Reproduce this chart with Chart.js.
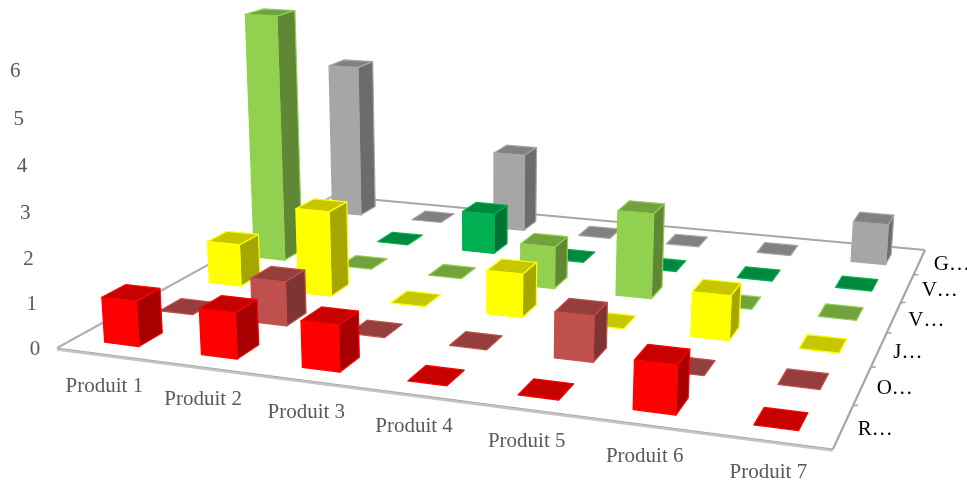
<!DOCTYPE html>
<html>
<head>
<meta charset="utf-8">
<title>Produits</title>
<script src="https://cdn.jsdelivr.net/npm/chart.js@4/dist/chart.umd.js"></script>
<style>
  html, body { margin: 0; padding: 0; background: #fff; }
  canvas { display: block; }
</style>
</head>
<body>
<canvas id="chart" width="967" height="482"></canvas>
<script>
const produits = ['Produit 1', 'Produit 2', 'Produit 3', 'Produit 4', 'Produit 5', 'Produit 6', 'Produit 7'];
const seriesNames = ['R…', 'O…', 'J…', 'V…', 'V…', 'G…'];

const rouge = [1, 1, 1, 0, 0, 1, 0];
const orange = [0, 1, 0, 0, 1, 0, 0];
const jaune = [1, 2, 0, 1, 0, 1, 0];
const vertClair = [6, 0, 0, 1, 2, 0, 0];
const vertFonce = [0, 0, 1, 0, 0, 0, 0];
const gris = [4, 0, 2, 0, 0, 0, 1];

const seriesColors = [
    [255, 0, 0], [192, 80, 77], [255, 255, 0], [146, 208, 80], [0, 176, 80], [166, 166, 166]
];
const seriesValues = [rouge, orange, jaune, vertClair, vertFonce, gris];

// floor corners and vertical vanishing point of the 3D view
const floor = { fl: [57, 348], fr: [833, 449], br: [925, 250], bl: [333, 196] };
const vanish = [480, 6300];
const unitPx = 45;
const barWidth = 0.36;
const barDepth = 0.42;

const makeProjection = ({ fl, fr, br, bl }) => {
    const dx1 = fr[0] - br[0], dx2 = bl[0] - br[0], sx = fl[0] - fr[0] + br[0] - bl[0];
    const dy1 = fr[1] - br[1], dy2 = bl[1] - br[1], sy = fl[1] - fr[1] + br[1] - bl[1];
    const den = dx1 * dy2 - dx2 * dy1;
    const g = (sx * dy2 - dx2 * sy) / den;
    const h = (dx1 * sy - sx * dy1) / den;
    const a = fr[0] - fl[0] + g * fr[0], b = bl[0] - fl[0] + h * bl[0];
    const d = fr[1] - fl[1] + g * fr[1], e = bl[1] - fl[1] + h * bl[1];
    const k = unitPx / (vanish[1] - fl[1]);

    return (u, v, z) => {
        const w = g * u + h * v + 1 - k * z;
        return [
            (a * u + b * v + fl[0] - k * z * vanish[0]) / w,
            (d * u + e * v + fl[1] - k * z * vanish[1]) / w
        ];
    };
};

const project = makeProjection(floor);

const shade = (rgb, f) => `rgb(${rgb.map(c => Math.round(c * f)).join(',')})`;

const polygon = (ctx, points, fill, stroke) => {
    ctx.beginPath();
    points.forEach((p, i) => (i ? ctx.lineTo(p[0], p[1]) : ctx.moveTo(p[0], p[1])));
    ctx.closePath();
    ctx.fillStyle = fill;
    ctx.fill();
    ctx.lineWidth = 1.2;
    ctx.lineJoin = 'round';
    ctx.strokeStyle = stroke;
    ctx.stroke();
};

// bars are laid out by the x, z and y scales, then pushed through the projection
class Bar3DController extends Chart.BarController {
    draw() {
        const ctx = this.chart.ctx;
        const { x, y, z } = this.chart.scales;
        const row = this.index;
        const rgb = seriesColors[row];
        const values = this.getDataset().data;
        const vc = (z.getPixelForValue(row) - z.left) / z.width;
        const pxPerUnit = y.height / (y.max - y.min);

        ctx.save();
        values.forEach((value, col) => {
            const uc = (x.getPixelForValue(col) - x.left) / x.width;
            const top = (y.bottom - y.getPixelForValue(value)) / pxPerUnit;
            const u0 = uc - barWidth / 14, u1 = uc + barWidth / 14;
            const v0 = vc - barDepth / 12, v1 = vc + barDepth / 12;
            const base = shade(rgb, 1);

            polygon(ctx, [project(u0, v0, top), project(u1, v0, top), project(u1, v1, top), project(u0, v1, top)], shade(rgb, 0.78), base);
            if (value > 0) {
                polygon(ctx, [project(u1, v0, 0), project(u1, v1, 0), project(u1, v1, top), project(u1, v0, top)], shade(rgb, 0.65), base);
                polygon(ctx, [project(u0, v0, 0), project(u1, v0, 0), project(u1, v0, top), project(u0, v0, top)], base, base);
            }
        });
        ctx.restore();
    }
}
Bar3DController.id = 'bar3d';
Bar3DController.defaults = Chart.BarController.defaults;
Chart.register(Bar3DController);

const floorAndLabels = {
    id: 'floorAndLabels',
    beforeDatasetsDraw(chart) {
        const ctx = chart.ctx;
        const { x, y, z } = chart.scales;

        const line = (a, b, color, width) => {
            ctx.beginPath();
            ctx.moveTo(a[0], a[1]);
            ctx.lineTo(b[0], b[1]);
            ctx.strokeStyle = color;
            ctx.lineWidth = width;
            ctx.stroke();
        };

        ctx.save();
        line(floor.bl, floor.br, '#a6a6a6', 2);
        line(floor.fl, floor.bl, '#b0b0b0', 2);
        line(floor.br, floor.fr, '#a6a6a6', 2.2);
        line([floor.fl[0], floor.fl[1] + 1.5], [floor.fr[0], floor.fr[1] + 1.5], '#c4c4c4', 2.5);
        line(floor.fl, floor.fr, '#a6a6a6', 1);

        z.ticks.forEach((tick, i) => {
            const p = project(1, i / 6, 0);
            if (i > 0) line(p, [p[0] + 5, p[1] - 0.5], '#a6a6a6', 1.5);
        });

        ctx.font = '21px "Liberation Serif"';
        ctx.textBaseline = 'middle';

        ctx.fillStyle = '#595959';
        ctx.textAlign = 'center';
        y.ticks.forEach(tick => {
            // tick labels sit a little tighter than the bar heights
            const p = project(0, 0, tick.value * 0.983);
            ctx.fillText(String(tick.value), p[0] - 22, p[1] + 1);
        });
        x.ticks.forEach((tick, i) => {
            const p = project((i + 0.5) / 7, 0, 0);
            ctx.fillText(x.getLabelForValue(tick.value), p[0] - 0.5, p[1] + 32);
        });

        ctx.fillStyle = '#000';
        ctx.textAlign = 'left';
        z.ticks.forEach((tick, i) => {
            const p = project(1, (i + 0.5) / 6, 0);
            ctx.fillText(seriesNames[i], p[0] + 14.5, p[1] + 2.5);
        });
        ctx.restore();
    }
};

new Chart(document.getElementById('chart'), {
    type: 'bar3d',
    data: {
        labels: produits,
        datasets: seriesValues.map((data, i) => ({ label: seriesNames[i], data }))
    },
    options: {
        responsive: false,
        animation: false,
        events: [],
        layout: { padding: 0 },
        plugins: { legend: { display: false }, tooltip: { enabled: false } },
        scales: {
            x: { type: 'category', display: false, offset: true },
            y: { type: 'linear', display: false, min: 0, max: 6, ticks: { stepSize: 1 } },
            z: { type: 'category', axis: 'x', position: 'bottom', display: false, offset: true, labels: seriesNames }
        }
    },
    plugins: [floorAndLabels]
});
</script>
</body>
</html>
